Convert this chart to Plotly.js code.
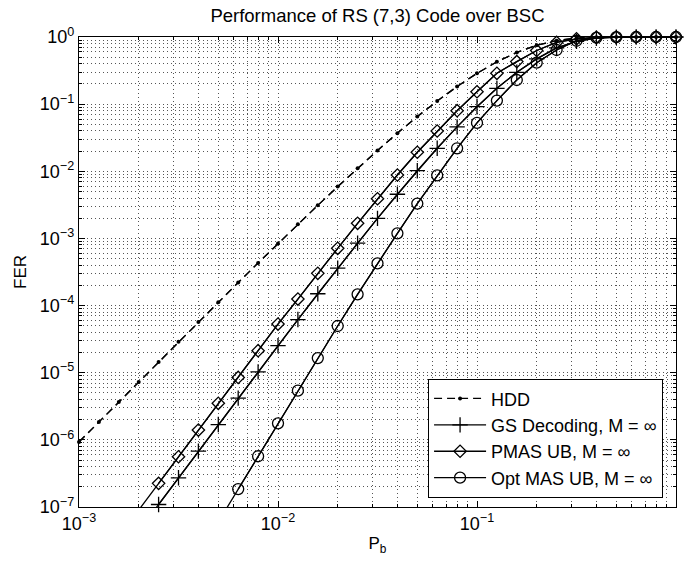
<!DOCTYPE html>
<html>
<head>
<meta charset="utf-8">
<script src="https://cdn.plot.ly/plotly-3.0.1.min.js"></script>
<style>html,body{margin:0;padding:0;background:#fff;}#chart{width:688px;height:567px;}</style>
</head>
<body>
<div id="chart"></div>
<script>
// P_b values (x axis)
const pb = [0.001, 0.0012589, 0.0015849, 0.0019953, 0.0025119, 0.0031623, 0.0039811, 0.0050119, 0.0063096, 0.0079433,
            0.01, 0.012589, 0.015849, 0.019953, 0.025119, 0.031623, 0.039811, 0.050119, 0.063096, 0.079433,
            0.1, 0.12589, 0.15849, 0.19953, 0.25119, 0.31623, 0.39811, 0.50119, 0.63096, 0.79433, 1];

// FER series
const hdd  = [9.3e-7, 1.85e-6, 3.67e-6, 7.28e-6, 1.45e-5, 2.88e-5, 5.69e-5, 1.12e-4, 2.20e-4, 4.31e-4,
              8.4e-4, 1.62e-3, 3.11e-3, 5.91e-3, 0.0111, 0.0204, 0.0370, 0.0653, 0.111, 0.183,
              0.288, 0.427, 0.589, 0.752, 0.883, 0.962, 0.993, 0.9995, 1, 1, 1];
const gs   = [null, null, null, 4.4e-8, 1.09e-7, 2.72e-7, 6.8e-7, 1.69e-6, 4.19e-6, 1.03e-5,
              2.53e-5, 6.19e-5, 1.50e-4, 3.6e-4, 8.5e-4, 1.99e-3, 4.55e-3, 0.0102, 0.022, 0.0458,
              0.0916, 0.172, 0.298, 0.472, 0.69, 0.86, 0.96, 0.994, 1, 1, 1];
const pmas = [null, null, null, 9e-8, 2.25e-7, 5.6e-7, 1.40e-6, 3.5e-6, 8.5e-6, 2.13e-5,
              5.3e-5, 1.25e-4, 3.02e-4, 7.13e-4, 1.68e-3, 3.9e-3, 8.8e-3, 0.0192, 0.0398, 0.0798,
              0.153, 0.288, 0.43, 0.63, 0.83, 0.94, 0.99, 1, 1, 1, 1];
const opt  = [null, null, null, null, null, null, null, 6e-8, 1.85e-7, 5.7e-7,
              1.76e-6, 5.4e-6, 1.65e-5, 4.96e-5, 1.47e-4, 4.26e-4, 1.19e-3, 3.3e-3, 8.7e-3, 0.022,
              0.0525, 0.113, 0.229, 0.415, 0.64, 0.88, 0.98, 0.998, 1, 1, 1];

const seriesNames = ['HDD', 'GS Decoding, M = \u221e', 'PMAS UB, M = \u221e', 'Opt MAS UB, M = \u221e'];
const xTickVals = [0.001, 0.01, 0.1, 1];
const xTickText = ['10<sup>\u22123</sup>', '10<sup>\u22122</sup>', '10<sup>\u22121</sup>', '10<sup>0</sup>'];
const yTickVals = [1e-7, 1e-6, 1e-5, 1e-4, 1e-3, 1e-2, 1e-1, 1];
const yTickText = ['10<sup>\u22127</sup>', '10<sup>\u22126</sup>', '10<sup>\u22125</sup>', '10<sup>\u22124</sup>',
                   '10<sup>\u22123</sup>', '10<sup>\u22122</sup>', '10<sup>\u22121</sup>', '10<sup>0</sup>'];

const YMIN = 1e-7;
const inRange = arr => arr.map(v => (v !== null && v >= YMIN) ? v : null);

const FONT = 'Liberation Sans, Arial, Helvetica, sans-serif';
const LW = 1.3;

const specs = [
  {y: hdd,  name: seriesNames[0], dash: '8px,5px', marker: {symbol: 'circle', size: 4, color: '#000'}},
  {y: gs,   name: seriesNames[1], dash: 'solid', marker: {symbol: 'cross-thin-open', size: 11, color: '#000', line: {color: '#000', width: LW}}},
  {y: pmas, name: seriesNames[2], dash: 'solid', marker: {symbol: 'diamond-open', size: 9.5, color: '#000', line: {color: '#000', width: LW}}},
  {y: opt,  name: seriesNames[3], dash: 'solid', marker: {symbol: 'circle-open', size: 11, color: '#000', line: {color: '#000', width: LW}}}
];

const traces = [];
// full lines (clipped to the plot area)
specs.forEach(s => traces.push({
  x: pb, y: s.y, type: 'scatter', mode: 'lines', showlegend: false, hoverinfo: 'skip',
  line: {color: '#000', width: LW, dash: s.dash}
}));
// markers (only in the visible range), with legend entries
specs.forEach(s => traces.push({
  x: pb, y: inRange(s.y), type: 'scatter', mode: 'lines+markers', name: s.name, cliponaxis: false,
  line: {color: '#000', width: LW, dash: s.dash}, marker: s.marker
}));

const gridDash = '1px,3px';
const GRIDC = '#555';
const axisCommon = {
  type: 'log', showline: true, linecolor: '#000', linewidth: 1.2, mirror: 'allticks',
  ticks: 'inside', ticklen: 6, tickwidth: 1, tickcolor: '#000',
  showgrid: true, gridcolor: GRIDC, gridwidth: 1, griddash: gridDash,
  zeroline: false, tickfont: {family: FONT, size: 18, color: '#000'},
  minor: {dtick: 'D1', showgrid: true, gridcolor: GRIDC, gridwidth: 1, griddash: gridDash,
          ticks: 'inside', ticklen: 3, tickcolor: '#000'}
};

const layout = {
  width: 688, height: 567,
  paper_bgcolor: '#fff', plot_bgcolor: '#fff',
  margin: {l: 79, r: 12, t: 37, b: 60, pad: 0},
  font: {family: FONT, size: 17, color: '#000'},
  title: {text: 'Performance of RS (7,3) Code over BSC', font: {family: FONT, size: 18.5, color: '#000'},
          x: 0.5, xref: 'paper', y: 1 - 16 / 567, yref: 'container', yanchor: 'middle'},
  xaxis: Object.assign({}, axisCommon, {
    range: [-3, 0], tickvals: xTickVals, ticktext: xTickText,
    title: {text: 'P<sub>b</sub>', font: {family: FONT, size: 17, color: '#000'}, standoff: 4}
  }),
  yaxis: Object.assign({}, axisCommon, {
    range: [-7, 0], tickvals: yTickVals, ticktext: yTickText,
    title: {text: 'FER', font: {family: FONT, size: 17, color: '#000'}, standoff: 8}
  }),
  legend: {
    x: 0.978, xanchor: 'right', y: 0.019, yanchor: 'bottom',
    bgcolor: '#fff', bordercolor: '#000', borderwidth: 1.2,
    font: {family: FONT, size: 18, color: '#000'}, itemwidth: 52, tracegroupgap: 0
  },
  showlegend: true
};

Plotly.newPlot('chart', traces, layout, {displayModeBar: false, staticPlot: true});
</script>
</body>
</html>
